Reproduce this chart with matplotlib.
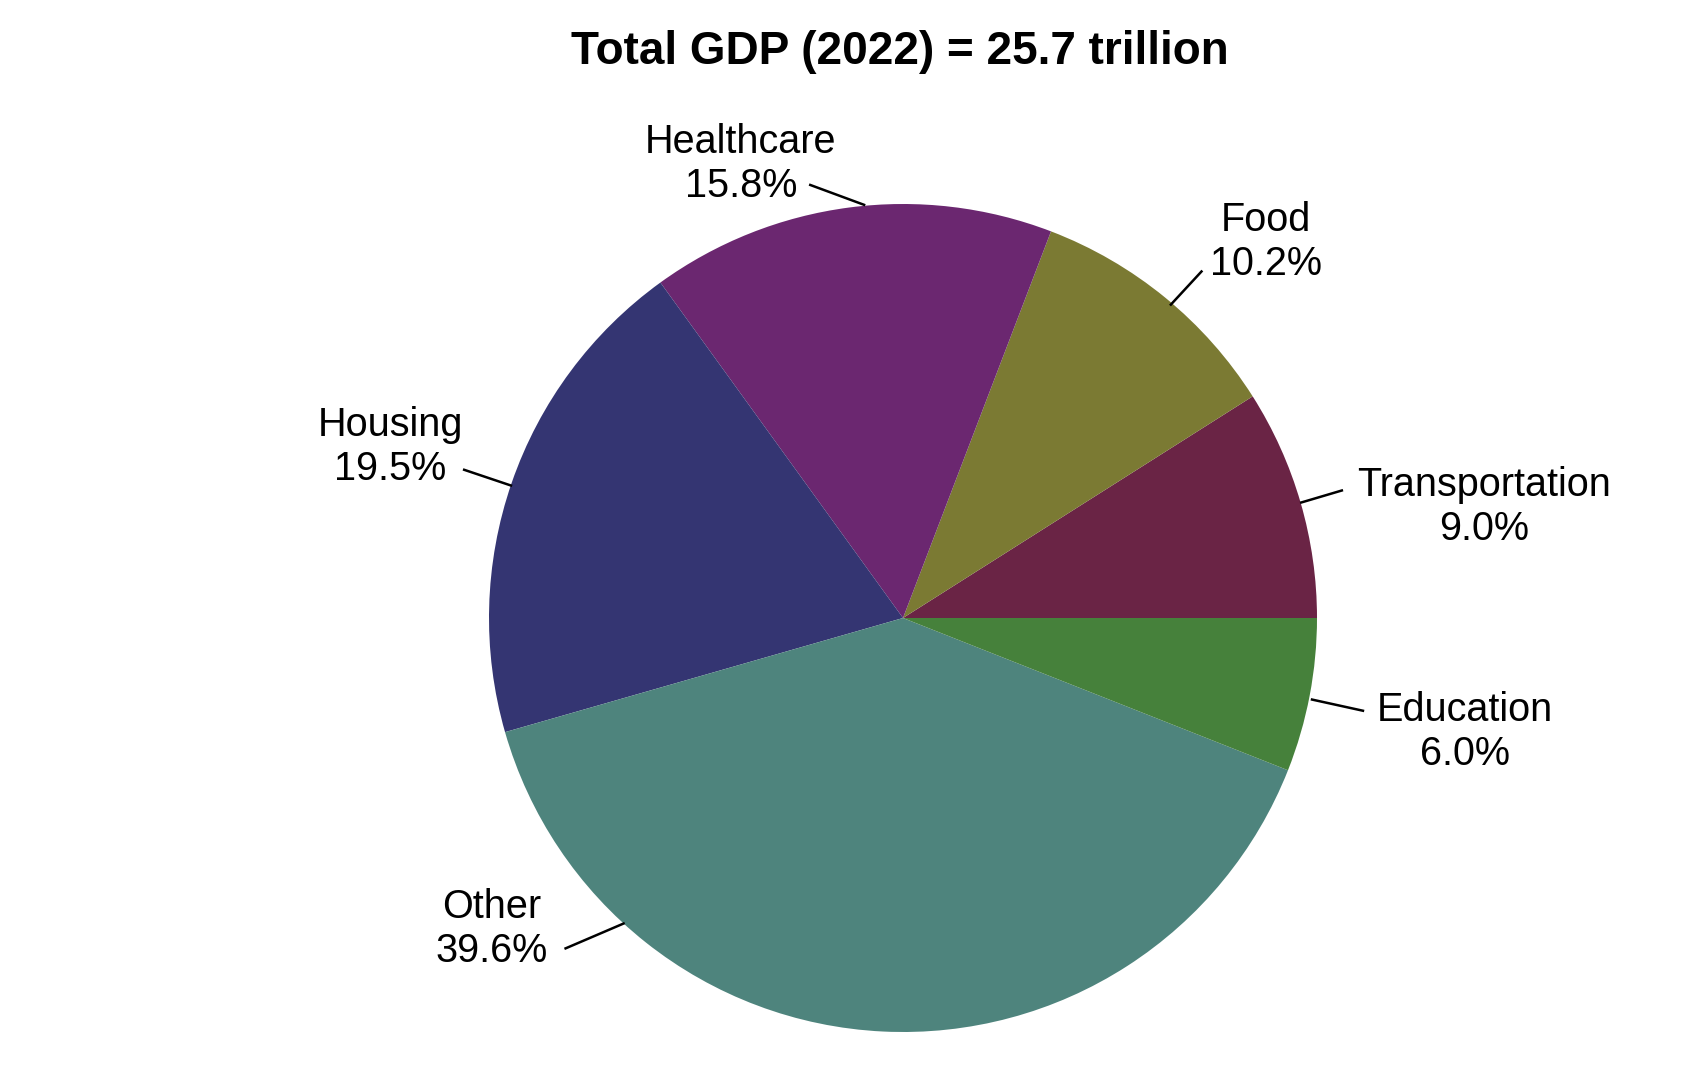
import matplotlib
matplotlib.use('Agg')
import matplotlib.pyplot as plt

plt.rcParams['font.family'] = ['Liberation Sans', 'DejaVu Sans']

# data, counterclockwise from 3 o'clock
categories = ['Transportation', 'Food', 'Healthcare', 'Housing', 'Other', 'Education']
shares = [9.0, 10.2, 15.8, 19.5, 39.6, 6.0]
colors = ['#6A2445', '#7B7A33', '#6B2770', '#343572', '#4E847D', '#46813B']
title = 'Total GDP (2022) = 25.7 trillion'

# label layout (pie radius = 1): text centre, leader start, leader end
label_pos = [(1.404, 0.267), (0.877, 0.909), (-0.392, 1.097),
             (-1.238, 0.413), (-0.993, -0.752), (1.358, -0.276)]
leaders = [((1.060, 0.308), (0.962, 0.279)),
           ((0.721, 0.837), (0.647, 0.757)),
           ((-0.224, 1.046), (-0.094, 0.998)),
           ((-1.060, 0.358), (-0.947, 0.320)),
           ((-0.815, -0.798), (-0.675, -0.738)),
           ((1.111, -0.224), (0.988, -0.197))]

W, H = 1700, 1067
cx, cy, r = 903, 449, 414  # pixels

fig = plt.figure(figsize=(W / 100, H / 100), dpi=100)
ax = fig.add_axes([0, 0, 1, 1])
ax.pie(shares, colors=colors, startangle=0, counterclock=True, radius=1,
       wedgeprops=dict(linewidth=0))
ax.set_xlim(-cx / r, (W - cx) / r)
ax.set_ylim(-cy / r, (H - cy) / r)
ax.set_aspect('auto')
ax.axis('off')

for name, val, (tx, ty), (p0, p1) in zip(categories, shares, label_pos, leaders):
    ax.text(tx, ty, f'{name}\n{val:.1f}%', ha='center', va='center',
            fontsize=28.5, linespacing=1.2)
    ax.plot([p0[0], p1[0]], [p0[1], p1[1]], color='black', lw=1.8)

fig.text(0.5295, 1 - 52 / H, title, ha='center', va='center',
         fontsize=33, fontweight='bold')

fig.savefig('out.png', dpi=100)
